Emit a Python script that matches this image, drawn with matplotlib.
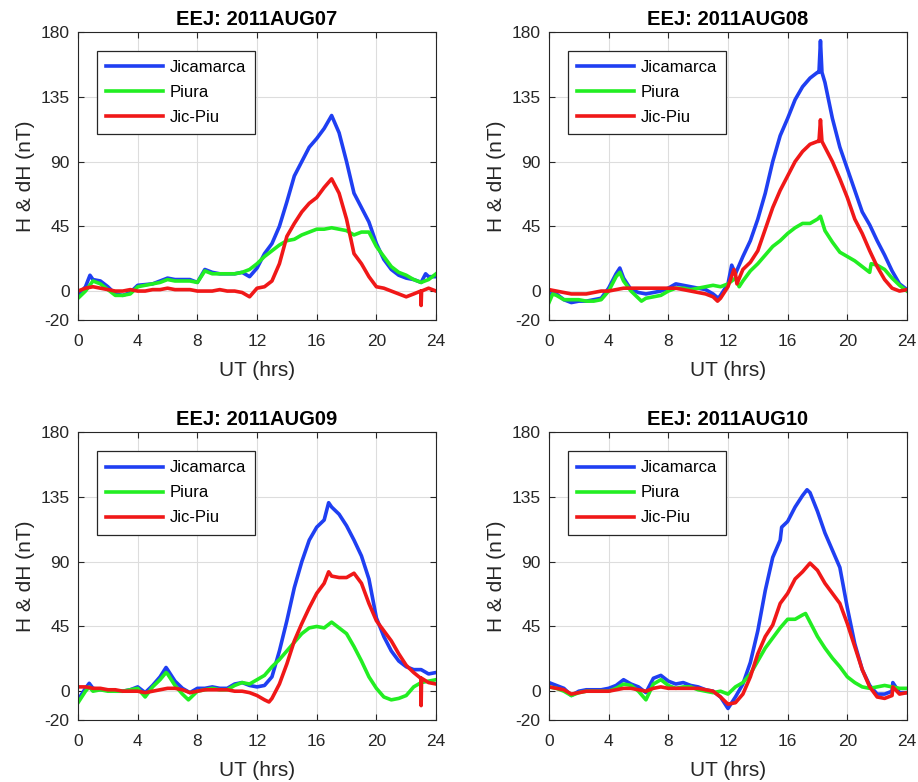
import numpy as np
import matplotlib
matplotlib.use("Agg")
import matplotlib.pyplot as plt

plt.rcParams['font.family'] = ['Liberation Sans', 'DejaVu Sans']
plt.rcParams['axes.unicode_minus'] = False

# half-hour samples, UT hours 0..24
ut = np.arange(0, 24.5, 0.5)

days = ["2011AUG07", "2011AUG08", "2011AUG09", "2011AUG10"]
labels = ["Jicamarca", "Piura", "Jic-Piu"]
colors = ["#1f3ff2", "#22ee22", "#f01818"]

jic07 = [-3, 3, 8, 7, 3, -2, -3, -1, 4, 4.5, 5, 7, 9, 8, 8, 8, 6, 15, 13, 12,
         12, 12, 13, 10, 16, 26, 33, 45, 62, 80, 90, 100, 106, 113, 122, 110, 90, 68, 58, 48,
         33, 22, 15, 11, 9, 8, 6, 10, 10]
piu07 = [-5, 0, 7, 5, 1, -3, -3, -2, 3, 4, 5, 6, 8, 7, 7, 7, 6, 14, 12, 12,
         12, 12, 13, 15, 19, 24, 28, 32, 35, 36, 39, 41, 43, 43, 44, 43, 42, 39, 41, 41,
         31, 24, 17, 13, 11, 8, 6, 8, 12]
dif07 = [0, 2, 3, 2, 1, 0, 0, 1, 0, 0, 1, 1, 2, 1, 1, 1, 0, 0, 0, 1,
         0, 0, -1, -4, 2, 3, 7, 19, 38, 47, 55, 61, 65, 72, 78, 68, 50, 26, 19, 10,
         3, 2, 0, -2, -4, -2, 0, 2, 0]

jic08 = [-6, -2, -6, -8, -7, -7, -6, -5, 2, 12, 9, 1, -1, -2, -1, 0, 2, 5, 4, 3,
         2, 1, -2, -3, 5, 12, 24, 35, 50, 68, 90, 108, 120, 133, 142, 148, 152, 145, 120, 100,
         85, 70, 55, 46, 35, 25, 14, 5, 1]
piu08 = [-8, -3, -6, -6, -6, -7, -7, -6, 0, 10, 7, 0, -5, -5, -4, -3, 0, 2, 2, 1,
         2, 3, 4, 3, 5, 9, 7, 14, 19, 25, 31, 35, 40, 44, 47, 47, 50, 42, 34, 27,
         24, 21, 17, 13, 18, 15, 9, 4, 0]
dif08 = [1, 0, -1, -2, -2, -2, -1, 0, 0, 1, 2, 2, 2, 2, 2, 2, 2, 2, 1, 0,
         -1, -2, -4, -5, 3, 12, 15, 20, 28, 43, 58, 70, 80, 90, 97, 102, 104, 100, 90, 78,
         65, 50, 40, 28, 17, 8, 2, 0, 1]

jic09 = [-6, 2, 2, 1, 1, 0, 0, 1, 3, -1, 4, 10, 15, 7, 2, -1, 2, 2, 3, 2,
         2, 5, 6, 4, 3, 4, 10, 28, 49, 72, 90, 105, 114, 119, 128, 123, 115, 105, 94, 78,
         51, 38, 28, 21, 17, 15, 15, 12, 13]
piu09 = [-8, 0, 0, 1, 0, 0, 0, 1, 2, -4, 3, 8, 12, 4, -2, -5, 0, 1, 2, 1,
         1, 4, 6, 5, 8, 11, 17, 22, 28, 34, 40, 44, 45, 44, 48, 44, 40, 31, 21, 10,
         2, -4, -6, -5, -3, 3, 6, 7, 8]
dif09 = [3, 3, 2, 2, 1, 1, 0, 0, 0, -1, 0, 1, 2, 2, 1, -1, 0, 1, 1, 1,
         1, 0, 0, -1, -3, -6, -5, 5, 19, 35, 47, 58, 68, 75, 80, 79, 79, 82, 75, 61,
         49, 42, 35, 26, 18, 13, 9, 6, 5]

jic10 = [6, 4, 2, -3, 0, 1, 1, 1, 2, 4, 8, 5, 3, -1, 9, 11, 7, 5, 6, 4,
         3, 1, 0, -4, -12, -4, 5, 20, 42, 70, 93, 105, 118, 128, 136, 138, 125, 110, 98, 86,
         58, 33, 15, 4, -2, -2, 0, -1, -1]
piu10 = [3, 2, 0, -3, -1, 0, 0, 0, 0, 2, 5, 4, 0, -6, 5, 8, 4, 2, 3, 3,
         1, 0, -1, 0, -2, 3, 6, 12, 21, 30, 37, 44, 50, 50, 53, 48, 38, 30, 23, 17,
         10, 6, 3, 2, 3, 4, 3, 2, 2]
dif10 = [3, 2, 1, -2, -1, 0, 0, 0, 0, 1, 2, 2, 1, 0, 2, 3, 2, 2, 2, 2,
         2, 1, 0, -4, -9, -8, -2, 10, 26, 38, 46, 61, 68, 78, 83, 89, 84, 75, 68, 61,
         47, 31, 15, 3, -4, -5, -3, -2, -1]

series = {
    "2011AUG07": [jic07, piu07, dif07],
    "2011AUG08": [jic08, piu08, dif08],
    "2011AUG09": [jic09, piu09, dif09],
    "2011AUG10": [jic10, piu10, dif10],
}

# short excursions between the half-hour samples: (hour, nT)
extra = {
    ("2011AUG07", 0): [(0.8, 11), (23.3, 12)],
    ("2011AUG07", 2): [(22.97, 0), (23.0, -10), (23.03, 0)],
    ("2011AUG08", 0): [(0.25, 0), (4.75, 16), (11.35, -5), (12.25, 18),
                       (18.1, 152), (18.2, 174), (18.3, 152)],
    ("2011AUG08", 1): [(0.25, -2), (4.75, 13), (6.2, -7), (12.75, 3),
                       (18.2, 52), (21.6, 19)],
    ("2011AUG08", 2): [(11.3, -7), (12.4, 15), (12.6, 5), (18.1, 104),
                       (18.2, 119), (18.3, 104)],
    ("2011AUG09", 0): [(0.75, 5.5), (5.9, 16.5), (16.8, 131)],
    ("2011AUG09", 1): [(0.75, 3), (5.9, 13), (7.4, -6)],
    ("2011AUG09", 2): [(12.8, -7.5), (16.8, 83), (22.97, 9), (23.0, -10), (23.03, 9)],
    ("2011AUG10", 0): [(15.6, 114), (17.3, 140), (23.05, 6)],
    ("2011AUG10", 1): [(17.2, 54)],
    ("2011AUG10", 2): [(23.05, 3)],
}


def merged(day, k, vals):
    pts = extra.get((day, k), [])
    x = np.concatenate([ut, [p[0] for p in pts]])
    y = np.concatenate([np.asarray(vals, float), [p[1] for p in pts]])
    order = np.argsort(x, kind="stable")
    return x[order], y[order]


fig = plt.figure(figsize=(9.18, 7.82), dpi=100)
positions = [[0.085, 0.591, 0.390, 0.368], [0.598, 0.591, 0.390, 0.368],
             [0.085, 0.0793, 0.390, 0.368], [0.598, 0.0793, 0.390, 0.368]]
dark = "#262626"

for day, pos in zip(days, positions):
    ax = fig.add_axes(pos)
    for k, (vals, lab, col) in enumerate(zip(series[day], labels, colors)):
        x, y = merged(day, k, vals)
        ax.plot(x, y, color=col, lw=2.6, label=lab)
    ax.set_xlim(0, 24)
    ax.set_ylim(-20, 180)
    ax.set_xticks(range(0, 25, 4))
    ax.set_yticks([-20, 0, 45, 90, 135, 180])
    ax.grid(True, color="#dddddd", lw=0.8)
    ax.set_axisbelow(True)
    ax.tick_params(direction="in", length=4, top=True, right=True,
                   labelsize=12.5, colors=dark, width=0.8)
    ax.tick_params(axis="x", pad=10)
    ax.tick_params(axis="y", pad=6)
    for s in ax.spines.values():
        s.set_color(dark)
        s.set_linewidth(0.8)
    ax.set_title("EEJ: " + day, fontsize=14.5, fontweight="bold", pad=5)
    ax.set_xlabel("UT (hrs)", fontsize=15, color=dark, labelpad=9)
    ax.set_ylabel("H & dH (nT)", fontsize=15, color=dark, labelpad=4)
    leg = ax.legend(loc="upper left", bbox_to_anchor=(0.053, 0.934), borderaxespad=0,
                    fontsize=12, handlelength=3.4, fancybox=False, framealpha=1,
                    edgecolor=dark, labelspacing=0.6, handletextpad=0.4,
                    borderpad=0.55)
    leg.get_frame().set_linewidth(0.9)

fig.savefig("out.png", dpi=100)
